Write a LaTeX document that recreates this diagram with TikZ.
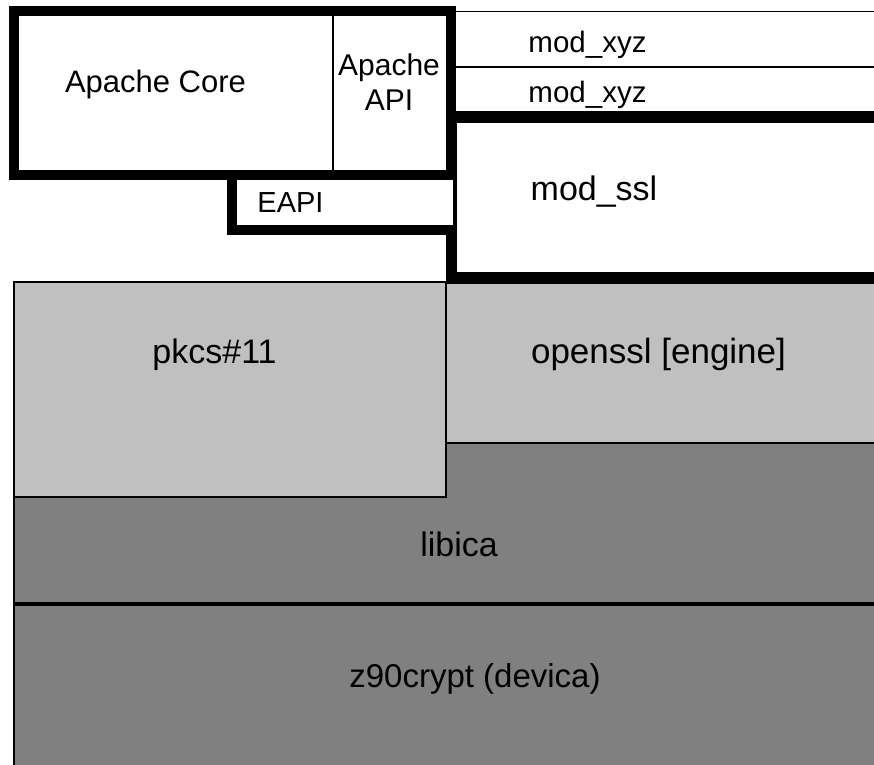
\documentclass[tikz,border=0pt]{standalone}
\usepackage{fontspec}
\setmainfont{Liberation Sans}
\definecolor{lightg}{HTML}{C0C0C0}
\definecolor{darkg}{HTML}{808080}
\begin{document}
\begin{tikzpicture}[x=1pt,y=-1pt,
  heavy/.style={draw=black,line width=10pt,line join=miter},
  thinrule/.style={draw=black,line width=1.5pt},
  lightbox/.style={fill=lightg,draw=black,line width=1.5pt},
  darkbox/.style={fill=darkg,draw=black,line width=1.5pt},
  lbl/.style={anchor=base,inner sep=0pt,font=\fontsize{#1}{#1}\selectfont}]
\useasboundingbox (0,0) rectangle (874,764);
\fill[white] (0,0) rectangle (874,764);
% lower layers
\draw[darkbox] (14,443) rectangle (890,604);
\draw[darkbox] (14,604) rectangle (890,780);
\draw[line width=4pt] (14,604) -- (890,604);
\draw[lightbox] (14,282) rectangle (446,497);
\draw[lightbox] (446,283) rectangle (890,443);
% mod_xyz rows
\draw[thinrule] (453,11.5) -- (890,11.5);
\draw[thinrule] (453,67) -- (890,67);
\draw[thinrule] (453,112) -- (890,112);
% mod_ssl
\draw[heavy,line width=10.5pt,fill=white] (451.5,118) rectangle (895,277.5);
% EAPI
\draw[heavy] (231.5,175) -- (231.5,229.5) -- (452,229.5);
\fill[white] (236.5,180) rectangle (453,224.5);
% Apache box
\draw[heavy] (14,10.5) rectangle (450.5,175);
\draw[line width=2.5pt] (333,10.5) -- (333,175);
% labels
\node[lbl=31] (core) at (155.5,92) {Apache Core};
\node[lbl=30] (apiA) at (389,75) {Apache};
\node[lbl=30] (apiB) at (389,110) {API};
\node[lbl=29] (eapi) at (290.5,212) {EAPI};
\node[lbl=29.5] (xyzA) at (587.5,52) {mod\_xyz};
\node[lbl=29.5] (xyzB) at (587.5,102) {mod\_xyz};
\node[lbl=34] (ssl) at (594,200) {mod\_ssl};
\node[lbl=34] (pkcs) at (214.5,363) {pkcs\#11};
\node[lbl=35] (openssl) at (658.5,363) {openssl [engine]};
\node[lbl=34] (libica) at (459,556) {libica};
\node[lbl=33] (z90) at (475,687) {z90crypt (devica)};
\end{tikzpicture}
\end{document}
